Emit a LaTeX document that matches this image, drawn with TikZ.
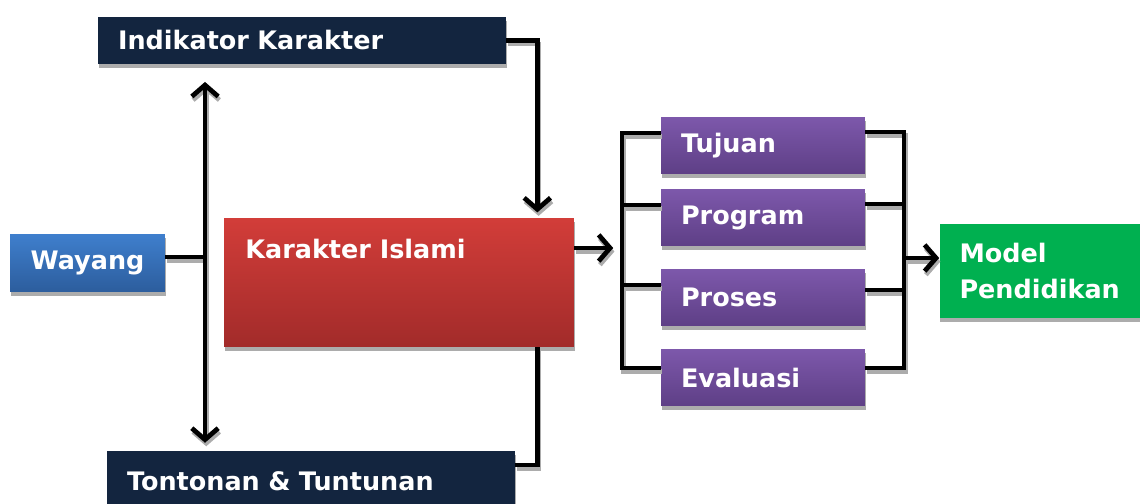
\documentclass[tikz,border=0pt]{standalone}
\usepackage{fontspec}
\setmainfont{DejaVu Sans}
\usepackage{xcolor}
\usepackage{tikz}
\usetikzlibrary{arrows.meta,shadows}

\definecolor{navy}{HTML}{13253F}
\definecolor{redtop}{HTML}{D23D39}
\definecolor{redbot}{HTML}{A22B2A}
\definecolor{bluetop}{HTML}{3F7FCD}
\definecolor{bluebot}{HTML}{2C5D9D}
\definecolor{purtop}{HTML}{7D58AB}
\definecolor{purbot}{HTML}{5E3F86}
\definecolor{modgreen}{HTML}{00B050}

\begin{document}
\begin{tikzpicture}[x=0.02cm, y=-0.02cm,
  lbl/.style={text=white, font=\fontsize{14.5}{21}\selectfont\bfseries, align=left},
  box/.style={lbl, inner xsep=0.4cm, inner ysep=0pt,
    drop shadow={shadow xshift=0.5pt, shadow yshift=-2.5pt, fill=gray!65, opacity=1}},
  purple/.style={box, top color=purtop, bottom color=purbot, minimum width=4.08cm, minimum height=1.14cm, text width=3.28cm},
  conn/.style={line width=2.7pt},
  tip/.tip={Straight Barb[length=6.5pt, width=15pt, line width=2.7pt]}]
 \useasboundingbox (0,0) rectangle (1140,504);

 % boxes
 \node [box, fill=navy, minimum width=8.16cm, minimum height=0.94cm, text width=7.36cm] (indik) at (302,40.5) {Indikator Karakter};
 \node [box, top color=bluetop, bottom color=bluebot, minimum width=3.1cm, minimum height=1.16cm, align=center] (wayang) at (87.5,263) {Wayang};
 \node [box, top color=redtop, bottom color=redbot, minimum width=7cm, minimum height=2.58cm] (karakter) at (399,282.5) {};
 \node [lbl, anchor=west, inner sep=0pt] (karakterlbl) at (245,249) {Karakter Islami};
 \node [box, fill=navy, minimum width=8.16cm, minimum height=1.2cm, text width=7.36cm] (tonton) at (311,481) {Tontonan \& Tuntunan};

 \node [purple] (tujuan) at (763,145.5) {Tujuan};
 \node [purple] (program) at (763,217.5) {Program};
 \node [purple] (proses) at (763,297.5) {Proses};
 \node [purple] (evaluasi) at (763,377.5) {Evaluasi};

 \node [box, fill=modgreen, minimum width=4.06cm, minimum height=1.88cm, text width=3.26cm] (model) at (1041,271) {Model\\Pendidikan};

 \coordinate (junc) at (205,257);
 \coordinate (lbar) at (622,0);
 \coordinate (rbar) at (904,0);

 % connectors, first the grey shadow then the black line
 \foreach \col/\dx/\dy in {gray!65/0.7pt/-2pt, black/0pt/0pt} {
 \begin{scope}[transform canvas={xshift=\dx, yshift=\dy}, every path/.style={draw=\col}]
 \draw [conn, {tip}-{tip}, shorten <=10pt, shorten >=4.5pt] (indik.south -| junc) -- (tonton.north -| junc);
 \draw [conn] (wayang.east |- junc) -- (junc);
 \draw [conn, -{tip}, shorten >=3pt] (indik.east) -| ([xshift=-0.74cm]karakter.north east);
 \draw [conn] ([yshift=0.32cm]tonton.east) -| ([xshift=-0.74cm]karakter.south east);
 \draw [conn, -{tip}, shorten >=5pt] ([yshift=0.69cm]karakter.east) -- ([yshift=0.69cm]karakter.east -| lbar);

 \draw [conn] ([yshift=0.25cm]tujuan.west) -| ([yshift=0.19cm]evaluasi.west -| lbar) -- ([yshift=0.19cm]evaluasi.west);
 \foreach \n in {program,proses}
  \draw [conn] ([yshift=0.25cm]\n.west) -- ([yshift=0.25cm]\n.west -| lbar);

 \draw [conn] ([yshift=0.27cm]tujuan.east) -| ([yshift=0.19cm]evaluasi.east -| rbar) -- ([yshift=0.19cm]evaluasi.east);
 \foreach \n/\off in {program/0.27,proses/0.15}
  \draw [conn] ([yshift=\off cm]\n.east) -- ([yshift=\off cm]\n.east -| rbar);
 \draw [conn, -{tip}] ([yshift=0.26cm]model.west -| rbar) -- ([yshift=0.26cm]model.west);
 \end{scope}
 }
\end{tikzpicture}
\end{document}
